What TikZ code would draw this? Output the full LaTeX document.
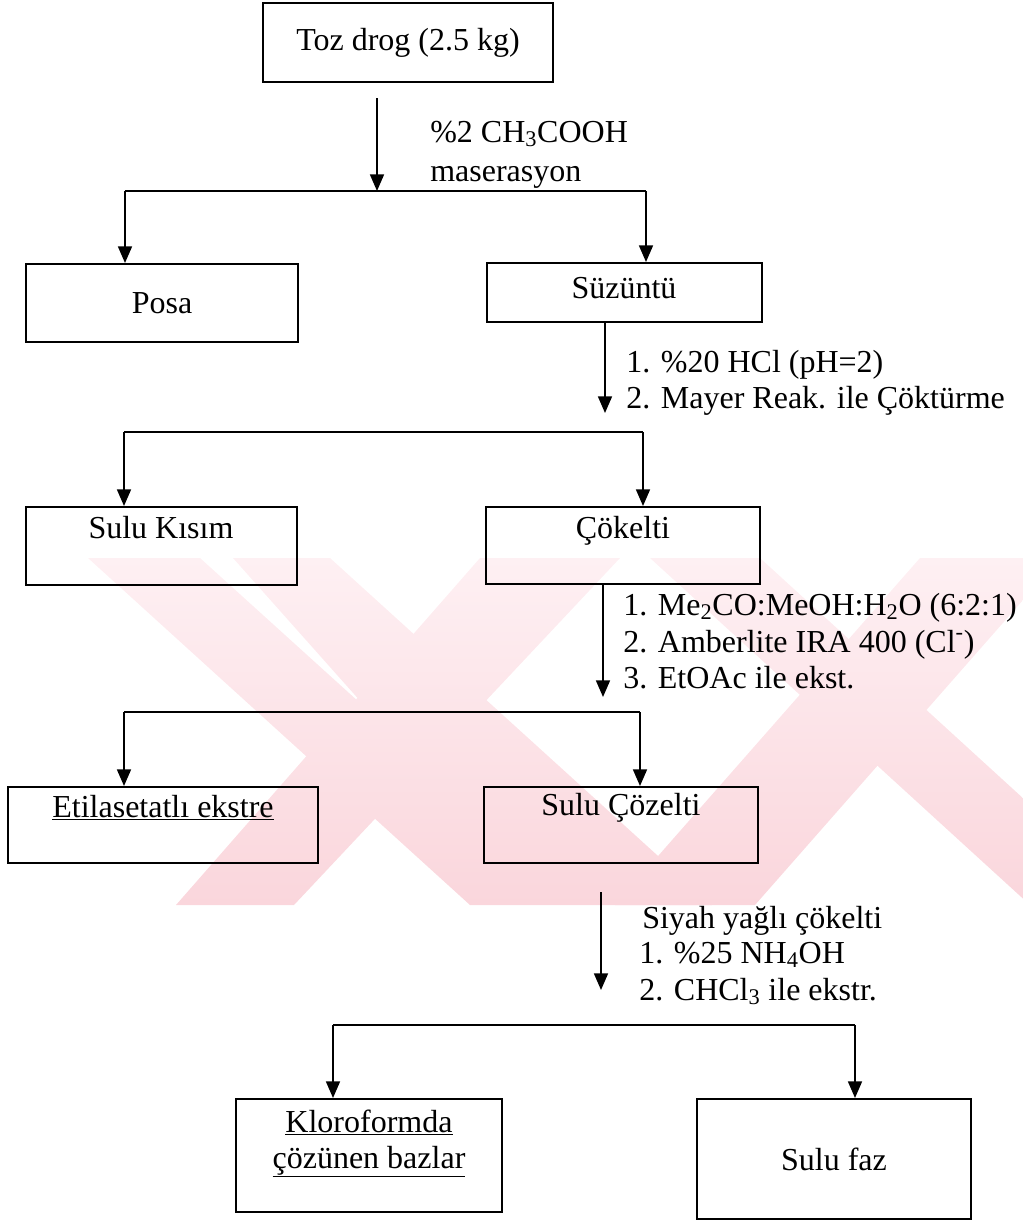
\documentclass[tikz,border=0pt]{standalone}
\usepackage{fontspec}
\setmainfont{Liberation Serif}
\usetikzlibrary{arrows.meta,fit}
\definecolor{wmtop}{RGB}{254,240,243}
\definecolor{wmbot}{RGB}{250,214,220}
\begin{document}
\begin{tikzpicture}[x=0.75pt,y=-0.75pt,
  box/.style={draw, line width=1.5pt, inner sep=0pt},
  txt/.style={inner sep=0pt, anchor=base, font=\fontsize{24}{27}\selectfont},
  lbl/.style={inner sep=0pt, anchor=base west, font=\fontsize{24}{27}\selectfont},
  conn/.style={line width=1.3pt},
  arr/.style={conn, -{Triangle[length=12.5pt,width=10.5pt]}},
  wm/.style={top color=wmtop, bottom color=wmbot}]
\useasboundingbox (0,0) rectangle (1023,1221);

% watermark
\begin{scope}
\clip (0,558) rectangle (1023,905);
\shade[wm] (88,558) -- (200,558) -- (370,712) -- (233,558) -- (330,558)
  -- (712,905) -- (470,905) -- cycle;
\shade[wm] (480,558) -- (620,558) -- (294,905) -- (176,905) -- cycle;
\shade[wm] (650,558) -- (760,558) -- (1140,905) -- (1030,905) -- cycle;
\shade[wm] (920,558) -- (1060,558) -- (755,905) -- (615,905) -- cycle;
\end{scope}

% boxes
\node[box, fit={(263,3)(553,82)}] (toz) {};
\node[txt] (tozt) at (408,50) {Toz drog (2.5 kg)};
\node[box, fit={(26,264)(298,342)}] (posa) {};
\node[txt] (posat) at (162,313) {Posa};
\node[box, fit={(487,263)(762,322)}] (suz) {};
\node[txt] (suzt) at (624,298) {Süzüntü};
\node[box, fit={(26,507)(297,585)}] (sulu) {};
\node[txt] (sulut) at (161,538) {Sulu Kısım};
\node[box, fit={(486,507)(760,584)}] (cok) {};
\node[txt] (cokt) at (623,538) {Çökelti};
\node[box, fit={(8,787)(318,863)}] (etil) {};
\node[txt] (etilt) at (163,817) {\underline{Etilasetatlı ekstre}};
\node[box, fit={(484,787)(758,863)}] (scoz) {};
\node[txt] (scozt) at (621,815) {Sulu Çözelti};
\node[box, fit={(236,1099)(502,1212)}] (klo) {};
\node[txt] (klot1) at (369,1132) {\underline{Kloroformda}};
\node[txt] (klot2) at (369,1168) {\underline{çözünen bazlar}};
\node[box, fit={(697,1099)(971,1219)}] (faz) {};
\node[txt] (fazt) at (834,1170) {Sulu faz};

% labels
\node[lbl] (l1a) at (430,142) {\%2 CH\textsubscript{3}COOH};
\node[lbl] (l1b) at (430,181) {maserasyon};
\node[lbl] (l2a) at (626,372) {1. \%20 HCl (pH=2)};
\node[lbl] (l2b) at (626,408) {2. Mayer Reak. ile Çöktürme};
\node[lbl] (l3a) at (623,615) {1. Me\textsubscript{2}CO:MeOH:H\textsubscript{2}O (6:2:1)};
\node[lbl] (l3b) at (623,652) {2. Amberlite IRA 400 (Cl\textsuperscript{-})};
\node[lbl] (l3c) at (623,688) {3. EtOAc ile ekst.};
\node[lbl] (l4a) at (642,928) {Siyah yağlı çökelti};
\node[lbl] (l4b) at (639,963) {1. \%25 NH\textsubscript{4}OH};
\node[lbl] (l4c) at (639,1000) {2. CHCl\textsubscript{3} ile ekstr.};

% level 1
\coordinate (s1) at (377,98);
\coordinate (j1) at (377,191);
\coordinate (l1) at (125,191);
\coordinate (r1) at (646,191);
\draw[arr] (s1) -- (j1);
\draw[conn] (l1) -- (r1);
\draw[arr] (l1) -- (l1 |- posa.north);
\draw[arr] (r1) -- (r1 |- suz.north);

% level 2
\coordinate (t2) at (605,413);
\coordinate (l2) at (124,432);
\coordinate (r2) at (643,432);
\draw[arr] (t2 |- suz.south) -- (t2);
\draw[conn] (l2) -- (r2);
\draw[arr] (l2) -- (l2 |- sulu.north);
\draw[arr] (r2) -- (r2 |- cok.north);

% level 3
\coordinate (t3) at (603,697);
\coordinate (l3) at (124,712);
\coordinate (r3) at (640,712);
\draw[arr] (t3 |- cok.south) -- (t3);
\draw[conn] (l3) -- (r3);
\draw[arr] (l3) -- (l3 |- etil.north);
\draw[arr] (r3) -- (r3 |- scoz.north);

% level 4
\coordinate (s4) at (601,892);
\coordinate (t4) at (601,990);
\coordinate (l4) at (333,1025);
\coordinate (r4) at (855,1025);
\draw[arr] (s4) -- (t4);
\draw[conn] (l4) -- (r4);
\draw[arr] (l4) -- (l4 |- klo.north);
\draw[arr] (r4) -- (r4 |- faz.north);
\end{tikzpicture}
\end{document}
